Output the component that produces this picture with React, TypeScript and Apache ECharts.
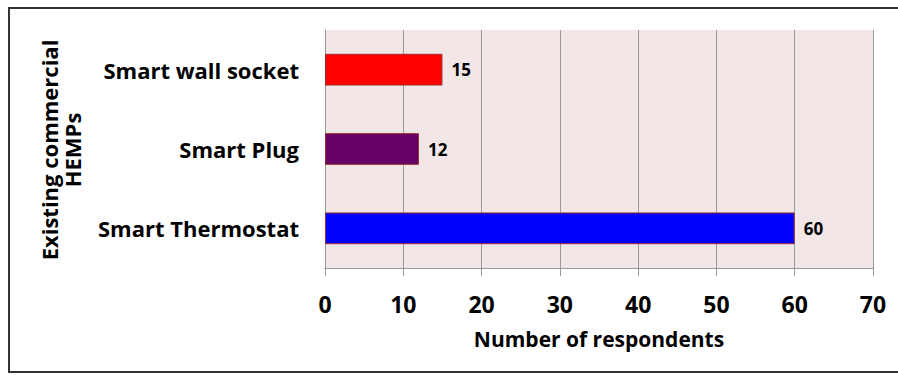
import React, { useEffect, useRef } from "react";
import * as echarts from "echarts";

const categories = ["Smart wall socket", "Smart Plug", "Smart Thermostat"];
const values = [15, 12, 60];
const barColors = ["#FF0000", "#660066", "#0000FF"];
const xTicks = [0, 10, 20, 30, 40, 50, 60, 70];
const xTitle = "Number of respondents";
const yTitle = "Existing commercial\nHEMPs";

const FONT = "'Open Sans', sans-serif";

export default function App() {
  const ref = useRef<HTMLDivElement>(null);
  useEffect(() => {
    if (!ref.current) return;
    const chart = echarts.init(ref.current, undefined, { renderer: "svg" });
    chart.setOption({
      animation: false,
      textStyle: { fontFamily: FONT },
      grid: {
        left: 325,
        right: 25,
        top: 30,
        bottom: 107,
        show: true,
        backgroundColor: "#F2E7E6",
        borderWidth: 0,
      },
      graphic: [
        {
          type: "rect",
          shape: { x: 9, y: 8, width: 960, height: 364 },
          style: { fill: "none", stroke: "#333", lineWidth: 2 },
          silent: true,
        },
        {
          type: "text",
          x: 60,
          y: 150,
          rotation: Math.PI / 2,
          style: {
            text: yTitle,
            fontFamily: FONT,
            fontWeight: "bold",
            fontSize: 22,
            lineHeight: 23,
            fill: "#000",
            align: "center",
            verticalAlign: "middle",
          },
        },
      ],
      xAxis: {
        type: "value",
        min: xTicks[0],
        max: xTicks[xTicks.length - 1],
        interval: 10,
        name: xTitle,
        nameLocation: "middle",
        nameGap: 60,
        nameTextStyle: { fontFamily: FONT, fontWeight: "bold", fontSize: 21, color: "#000" },
        axisLine: { show: true, lineStyle: { color: "#999", width: 1 } },
        axisTick: { show: true, length: 8, lineStyle: { color: "#999" } },
        axisLabel: { fontFamily: FONT, fontWeight: "bold", fontSize: 23, color: "#000", margin: 24 },
        splitLine: { show: true, lineStyle: { color: "#999", width: 1 } },
      },
      yAxis: {
        type: "category",
        data: categories,
        inverse: true,
        axisLine: { show: true, lineStyle: { color: "#999", width: 1 } },
        axisTick: { show: false },
        axisLabel: { fontFamily: FONT, fontWeight: "bold", fontSize: 22, color: "#000", margin: 26 },
        splitLine: { show: false },
      },
      series: [
        {
          type: "bar",
          data: values.map((v, i) => ({ value: v, itemStyle: { color: barColors[i] } })),
          barWidth: "40%",
          itemStyle: { borderColor: "#9B2D2D", borderWidth: 1 },
          label: {
            show: true,
            position: "right",
            distance: 9,
            fontFamily: FONT,
            fontWeight: "bold",
            fontSize: 17,
            color: "#000",
          },
        },
      ],
    });
    return () => chart.dispose();
  }, []);
  return (
    <div
      ref={ref}
      style={{ position: "absolute", left: 0, top: 0, width: 898, height: 375 }}
    />
  );
}
